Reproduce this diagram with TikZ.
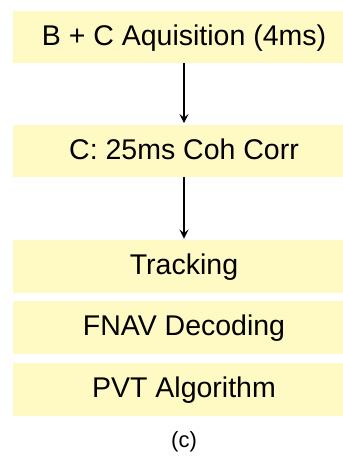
\documentclass[tikz,border=0pt]{standalone}
\usepackage{fontspec}
\setmainfont{Liberation Sans}
\usetikzlibrary{arrows.meta}
\definecolor{stagefill}{RGB}{255,249,196}
\begin{document}
\begin{tikzpicture}[x=1pt,y=-1pt,
  stagebox/.style={fill=stagefill, draw=none, minimum width=342pt, minimum height=52.5pt,
    inner sep=0pt, font=\fontsize{28.5}{32}\selectfont, text height=20.5pt, text depth=4.5pt},
  flow/.style={line width=1.4pt, -{Stealth[length=9pt,width=9pt,inset=3.5pt]}, shorten >=1.5pt}]
  \useasboundingbox (0,0) rectangle (343,456);
  \clip (0,0) rectangle (343,456);
  \node[stagebox] (acq) at (184,37) {B + C Aquisition (4ms)};
  \node[stagebox] (coh) at (184,151) {C: 25ms Coh Corr};
  \node[stagebox] (trk) at (184,266.5) {Tracking};
  \node[stagebox] (dec) at (184,327.5) {FNAV Decoding};
  \node[stagebox] (pvt) at (184,389.5) {PVT Algorithm};
  \node[font=\fontsize{22}{25}\selectfont, inner sep=0pt, text height=15.5pt, text depth=4.5pt] (cap) at (184,442) {(c)};
  \draw[flow] (acq.south) -- (coh.north);
  \draw[flow] (coh.south) -- (trk.north);
\end{tikzpicture}
\end{document}
